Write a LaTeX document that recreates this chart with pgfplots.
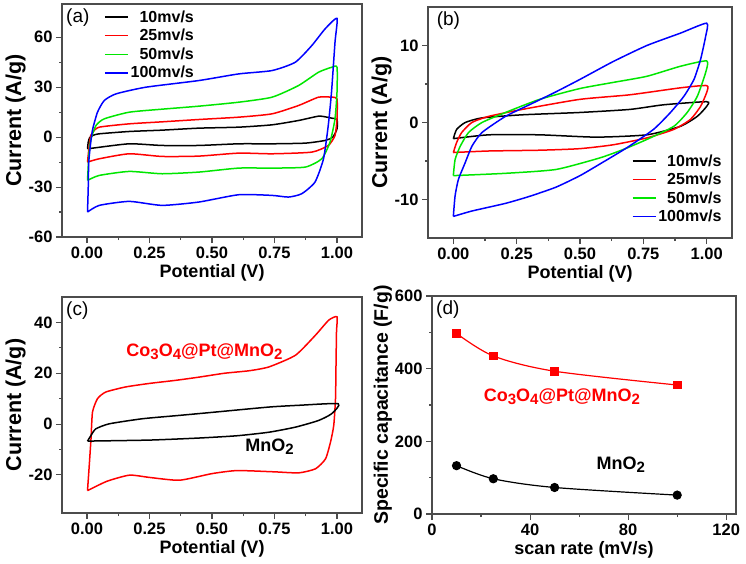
\documentclass[border=0pt]{standalone}
\usepackage{fontspec}
\setmainfont{Liberation Sans}
\usepackage{pgfplots}
\pgfplotsset{compat=1.18}

\definecolor{cvgreen}{RGB}{0,230,0}
\newcommand{\sub}[1]{\raisebox{-0.35ex}{\fontsize{15}{15}\selectfont #1}}

\pgfplotsset{
  panel/.style={
    scale only axis,
    axis line style={black!70, line width=1.2pt},
    tick style={black!70, line width=1.1pt},
    tick align=outside,
    tick pos=left,
    major tick length=6pt,
    minor tick length=3pt,
    minor tick num=1,
    /pgf/number format/assume math mode=true,
    ticklabel style={font=\bfseries\fontsize{16.5}{16.5}\selectfont},
    xlabel style={font=\bfseries\fontsize{18}{18}\selectfont, yshift=1pt},
    ylabel style={font=\bfseries\fontsize{21.5}{21.5}\selectfont, yshift=-4pt},
    legend style={draw=none, fill=none, font=\bfseries\fontsize{16}{16}\selectfont,
      row sep=1.5pt, cells={anchor=east}},
    legend image code/.code={\draw[#1, line width=1.5pt] (0pt,0pt) -- (23pt,0pt);},
  },
  cv/.style={
    xmin=-0.1, xmax=1.1,
    xtick={0,0.25,0.5,0.75,1},
    xticklabel style={/pgf/number format/.cd, fixed, fixed zerofill, precision=2},
    xlabel={Potential (V)},
    ylabel={Current (A/g)},
  },
  loop/.style={line width=1.5pt, smooth, tension=0.35, no marks},
}

\begin{document}
\begin{tikzpicture}[x=1pt, y=1pt]
\useasboundingbox (0,0) rectangle (746,-564);

% (a)
\begin{axis}[panel, cv, at={(62pt,-237pt)}, anchor=south west,
  width=300pt, height=233pt,
  ymin=-60, ymax=80, ytick={-60,-30,0,30,60},
  legend style={at={(rel axis cs:0.13,0.99)}, anchor=north west}]
\addplot[loop, black] coordinates {
 (0.002,-7) (0.005,-3) (0.01,-0.5) (0.023,1) (0.049,2) (0.169,3.4) (0.30,4.2)
 (0.447,5.4) (0.607,6) (0.74,7.4) (0.846,10) (0.926,12.6) (0.96,12) (0.979,11.4) (1.0,10.6)
 (1.0,5) (0.983,0) (0.952,-2) (0.873,-3.6) (0.74,-4) (0.607,-4) (0.447,-5) (0.30,-5)
 (0.169,-4) (0.023,-6.6) (0.002,-7)};
\addlegendentry{10mv/s}
\addplot[loop, red] coordinates {
 (0.002,-15) (0.009,-5) (0.015,1) (0.023,3) (0.049,6) (0.169,8) (0.30,9.2) (0.447,10.6)
 (0.607,12) (0.74,14) (0.846,19) (0.926,24) (0.979,24) (1.0,23)
 (1.0,11) (0.992,1) (0.965,-5) (0.899,-9) (0.74,-10) (0.607,-9.6) (0.447,-11.4) (0.30,-11.6)
 (0.169,-10) (0.049,-13) (0.002,-15)};
\addlegendentry{25mv/s}
\addplot[loop, cvgreen] coordinates {
 (0.002,-26) (0.008,-10) (0.016,-1) (0.036,7) (0.069,11) (0.169,15) (0.30,16.8) (0.447,18.6)
 (0.607,21) (0.74,24) (0.846,31) (0.926,39) (0.979,42) (1.0,42)
 (1.0,27) (0.992,11) (0.972,-3) (0.939,-13) (0.873,-18) (0.74,-18.6) (0.607,-18.6)
 (0.447,-21) (0.30,-22) (0.169,-20.6) (0.049,-23) (0.002,-26)};
\addlegendentry{50mv/s}
\addplot[loop, blue] coordinates {
 (0.002,-45) (0.005,-30) (0.007,-15) (0.015,-3) (0.023,5) (0.042,15) (0.069,22) (0.116,26)
 (0.235,30) (0.447,34) (0.607,38) (0.74,40) (0.833,45) (0.899,55) (0.952,65) (1.0,71.4)
 (0.992,57) (0.978,27) (0.965,7) (0.946,-13) (0.912,-27) (0.859,-34) (0.806,-36) (0.74,-35)
 (0.607,-34.6) (0.447,-39) (0.30,-41) (0.169,-38.6) (0.049,-41) (0.002,-45)};
\addlegendentry{100mv/s}
\node[anchor=north west, font=\fontsize{19}{19}\selectfont, inner sep=1pt]
  at (rel axis cs:0.01,0.985) {(a)};
\end{axis}

% (b)
\begin{axis}[panel, cv, at={(428pt,-238pt)}, anchor=south west,
  width=304pt, height=231pt,
  ymin=-15, ymax=15, ytick={-10,0,10},
  legend style={at={(rel axis cs:0.66,0.38)}, anchor=north west}]
\addplot[loop, black] coordinates {
 (0,-2.1) (0.013,-0.9) (0.047,0) (0.113,0.6) (0.272,1.0) (0.498,1.3) (0.697,1.7) (0.83,2.3) (1.0,2.7)
 (1.0,2.1) (0.963,0.8) (0.896,-0.5) (0.764,-1.6) (0.564,-1.9) (0.34,-1.6) (0.14,-1.6) (0,-2.1)};
\addlegendentry{10mv/s}
\addplot[loop, red] coordinates {
 (0,-3.9) (0.013,-2.6) (0.033,-1.3) (0.073,0) (0.14,0.8) (0.272,1.7) (0.498,3.0) (0.697,3.6)
 (0.896,4.5) (1.0,4.8)
 (1.0,3.9) (0.976,2.1) (0.936,0.4) (0.87,-0.9) (0.764,-2.0) (0.63,-2.9) (0.498,-3.4) (0.34,-3.6)
 (0.14,-3.7) (0,-3.9)};
\addlegendentry{25mv/s}
\addplot[loop, cvgreen] coordinates {
 (0,-6.9) (0.007,-4.8) (0.027,-3.1) (0.06,-1.3) (0.113,0) (0.206,1.3) (0.34,3.0) (0.498,4.4)
 (0.63,5.2) (0.764,6.0) (0.896,7.3) (1.0,8.0)
 (0.996,6.5) (0.963,3.4) (0.923,1.3) (0.87,-0.5) (0.764,-2.2) (0.671,-3.5) (0.578,-4.6)
 (0.405,-6.1) (0.206,-6.6) (0,-6.9)};
\addlegendentry{50mv/s}
\addplot[loop, blue] coordinates {
 (0,-12.2) (0.007,-9.5) (0.02,-7.4) (0.047,-5.2) (0.073,-3.1) (0.113,-1.3) (0.206,0.8)
 (0.3,2.3) (0.4,3.9) (0.5,5.6) (0.63,7.9) (0.764,10.0) (0.896,11.6) (1.0,12.9)
 (0.996,11.2) (0.976,8.2) (0.95,5.6) (0.91,3.4) (0.857,1.3) (0.79,-0.9) (0.684,-3.3)
 (0.578,-5.4) (0.5,-6.9) (0.405,-8.4) (0.3,-9.6) (0.206,-10.5) (0.073,-11.5) (0,-12.2)};
\addlegendentry{100mv/s}
\node[anchor=north west, font=\fontsize{19}{19}\selectfont, inner sep=1pt]
  at (rel axis cs:0.025,0.985) {(b)};
\end{axis}

% (c)
\begin{axis}[panel, cv, at={(62pt,-513pt)}, anchor=south west,
  width=300pt, height=216pt,
  ymin=-35, ymax=50, ytick={-20,0,20,40}]
\addplot[loop, red] coordinates {
 (0.002,-26.2) (0.009,-16.3) (0.016,-5.8) (0.022,4.7) (0.042,10) (0.075,12.6) (0.154,14.6)
 (0.25,16) (0.354,17.2) (0.45,18.5) (0.55,20) (0.65,21) (0.728,22.5) (0.834,27.1) (0.914,35)
 (0.967,40.9) (1.0,42.2)
 (0.998,36.3) (0.996,23.1) (0.994,10) (0.987,-0.5) (0.974,-7.1) (0.954,-13.7) (0.914,-17.6)
 (0.847,-19.2) (0.75,-18.8) (0.6,-18.3) (0.5,-19.5) (0.37,-22.1) (0.25,-21) (0.17,-20.1)
 (0.08,-22.5) (0.002,-26.2)};
\addplot[loop, black] coordinates {
 (0.002,-6.7) (0.016,-4.5) (0.035,-1.9) (0.089,0.1) (0.222,2.1) (0.368,3.4) (0.5,4.6)
 (0.728,6.7) (0.85,7.4) (1.005,8.0)
 (0.979,4.1) (0.926,1.4) (0.834,-1.2) (0.728,-3.2) (0.6,-4.6) (0.447,-5.5) (0.25,-6.3) (0.002,-6.7)};
\node[anchor=north west, font=\fontsize{19}{19}\selectfont, inner sep=1pt]
  at (rel axis cs:0.01,0.985) {(c)};
\node[red, font=\bfseries\fontsize{18}{18}\selectfont] at (axis cs:0.47,28.5)
  {Co\sub{3}O\sub{4}@Pt@MnO\sub{2}};
\node[font=\bfseries\fontsize{18}{18}\selectfont] at (axis cs:0.73,-9)
  {MnO\sub{2}};
\end{axis}

% (d)
\begin{axis}[panel, at={(432pt,-514pt)}, anchor=south west,
  width=304pt, height=218pt,
  xmin=0, xmax=124, ymin=0, ymax=600,
  xtick={0,40,80,120}, minor xtick={20,60,100},
  ytick={0,200,400,600}, minor ytick={100,300,500},
  xlabel={scan rate (mV/s)},
  ylabel={Specific capacitance (F/g)},
  ylabel style={font=\bfseries\fontsize{19.5}{19.5}\selectfont}]
\addplot[red, line width=1.2pt, smooth, tension=0.5, mark=square*, mark size=3.8pt,
  mark options={solid}] coordinates {(10,497) (25,435) (50,393) (100,355)};
\addplot[black, line width=1.2pt, smooth, tension=0.5, mark=*, mark size=4pt,
  mark options={solid}] coordinates {(10,133) (25,97) (50,73) (100,52)};
\node[anchor=north west, font=\fontsize{19}{19}\selectfont, inner sep=1pt]
  at (rel axis cs:0.01,0.985) {(d)};
\node[red, font=\bfseries\fontsize{18}{18}\selectfont] at (axis cs:53,322)
  {Co\sub{3}O\sub{4}@Pt@MnO\sub{2}};
\node[font=\bfseries\fontsize{18}{18}\selectfont] at (axis cs:77,135)
  {MnO\sub{2}};
\end{axis}
\end{tikzpicture}
\end{document}
